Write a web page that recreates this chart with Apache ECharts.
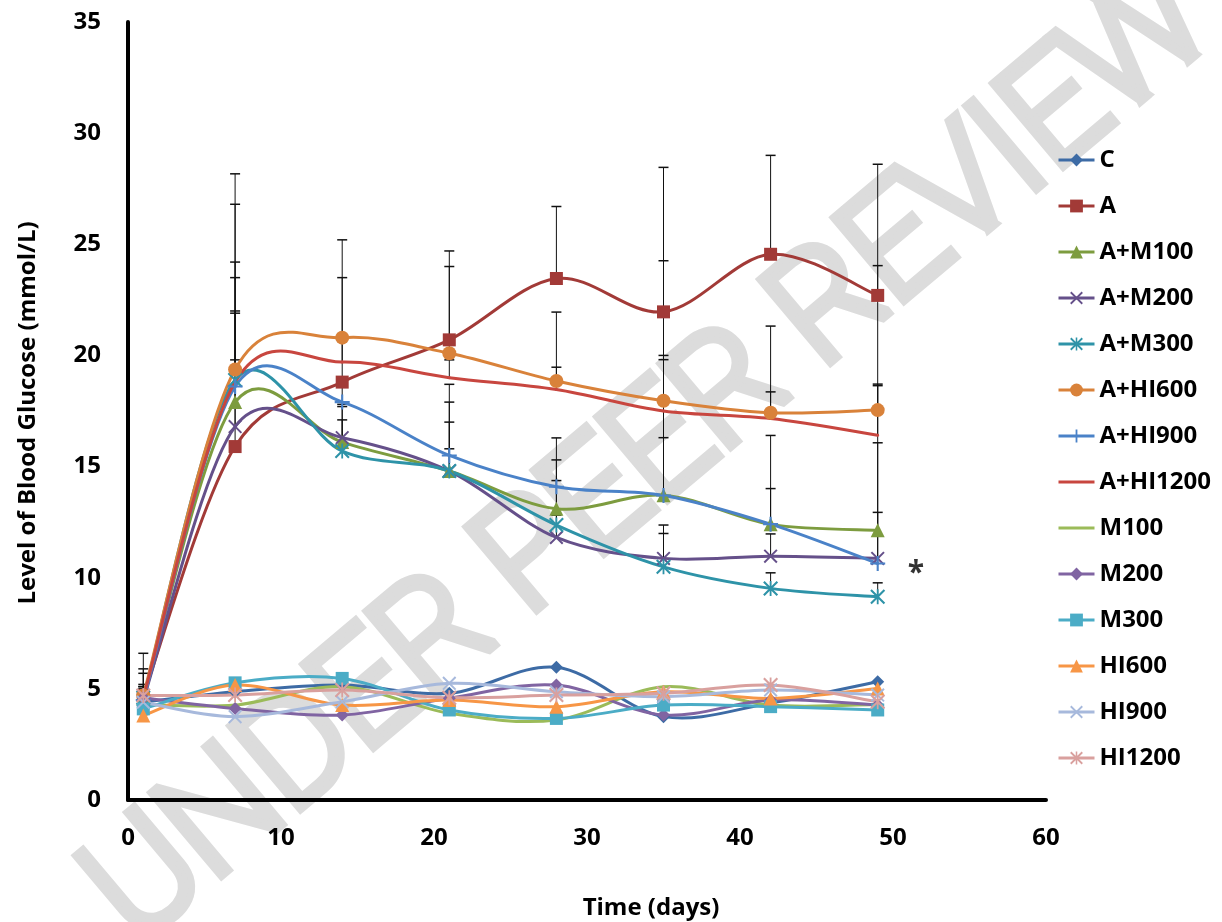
<!DOCTYPE html>
<html><head><meta charset="utf-8">
<script src="https://cdn.jsdelivr.net/npm/echarts@6/dist/echarts.min.js"></script>
<style>html,body{margin:0;padding:0;background:#fff}#c{width:1222px;height:922px}</style>
</head><body><div id="c"></div>
<script>
const days = [1, 7, 14, 21, 28, 35, 42, 49];
const xTicks = [0, 10, 20, 30, 40, 50, 60];
const yTicks = [0, 5, 10, 15, 20, 25, 30, 35];
const names = ['C','A','A+M100','A+M200','A+M300','A+HI600','A+HI900','A+HI1200','M100','M200','M300','HI600','HI900','HI1200'];

const C       = [4.4, 4.87, 5.17, 4.8, 5.97, 3.75, 4.36, 5.32];
const A       = [4.7, 15.9, 18.8, 20.7, 23.46, 21.96, 24.55, 22.7];
const AM100   = [4.6, 17.9, 16.1, 14.8, 13.1, 13.71, 12.4, 12.14];
const AM200   = [4.5, 16.8, 16.3, 14.8, 11.81, 10.87, 10.97, 10.87];
const AM300   = [4.6, 18.9, 15.7, 14.8, 12.37, 10.49, 9.52, 9.14];
const AHI600  = [4.7, 19.37, 20.8, 20.1, 18.85, 17.96, 17.42, 17.54];
const AHI900  = [4.5, 18.6, 17.9, 15.5, 14.09, 13.7, 12.41, 10.64];
const AHI1200 = [4.6, 18.8, 19.7, 19.0, 18.47, 17.5, 17.16, 16.41];
const M100    = [4.3, 4.27, 5.1, 3.9, 3.6, 5.1, 4.27, 4.3];
const M200    = [4.6, 4.12, 3.82, 4.58, 5.17, 3.82, 4.5, 4.27];
const M300    = [4.1, 5.27, 5.47, 4.05, 3.67, 4.27, 4.2, 4.05];
const HI600   = [3.8, 5.17, 4.27, 4.5, 4.2, 4.87, 4.57, 5.02];
const HI900   = [4.4, 3.75, 4.42, 5.25, 4.87, 4.65, 4.95, 4.72];
const HI1200  = [4.7, 4.72, 4.95, 4.6, 4.72, 4.8, 5.17, 4.42];

// upper error (SD) for the A-groups
const errA       = [1.9, 6.1, 4.7, 4.0, 3.24, 6.5, 4.45, 5.9];
const errAM100   = [1.3, 4.0, 1.0, 1.0, 2.2, 6.1, 4.0, 6.5];
const errAM200   = [1.2, 3.0, 1.5, 2.2, 1.0, 1.5, 1.0, 5.2];
const errAM300   = [0.5, 7.9, 2.0, 3.9, 2.0, 1.5, 0.7, 0.63];
const errAHI600  = [0.5, 8.8, 4.4, 3.9, 3.1, 6.3, 3.9, 6.5];
const errAHI900  = [0.5, 5.6, 1.0, 2.4, 2.2, 2.6, 1.6, 2.3];
const errAHI1200 = [0.5, 4.7, 1.0, 0.8, 1.0, 2.5, 1.2, 2.3];

const starNote = {x: 51.5, y: 10.2, text: '*'};

const values = [C, A, AM100, AM200, AM300, AHI600, AHI900, AHI1200, M100, M200, M300, HI600, HI900, HI1200];
const errs = [null, errA, errAM100, errAM200, errAM300, errAHI600, errAHI900, errAHI1200, null, null, null, null, null, null];
const colors = ['#3D6BA5','#A23A37','#7D9C3F','#65508A','#2E93A8','#D9823A','#4A82C8','#C8463F','#9BBB59','#8064A2','#4BACC6','#F79646','#A7B9DC','#D9A09E'];

const P_X = 'path://M0,1 L1,0 L10,9 L9,10 Z M9,0 L10,1 L1,10 L0,9 Z';
const P_STAR = 'path://M0,1 L1,0 L10,9 L9,10 Z M9,0 L10,1 L1,10 L0,9 Z M4.4,0 L5.6,0 L5.6,10 L4.4,10 Z';
const P_PLUS = 'path://M4.3,0 L5.7,0 L5.7,10 L4.3,10 Z M0,4.3 L10,4.3 L10,5.7 L0,5.7 Z';
const symbols = ['diamond','rect','triangle',P_X,P_STAR,'circle',P_PLUS,'none','none','diamond','rect','triangle',P_X,P_STAR];
const sizes = [13,13,14,14,15,14,15,0,0,13,13,14,14,15];

const errData = [];
values.forEach((v, i) => {
  if (!errs[i]) return;
  days.forEach((d, j) => { if (errs[i][j] != null) errData.push([d, v[j], v[j] + errs[i][j]]); });
});

const FONT = 'Open Sans';
const series = [];
series.push({
  name: '_err', type: 'custom', z: 2, silent: true,
  data: errData,
  renderItem: function (params, api) {
    const x = api.coord([api.value(0), api.value(1)]);
    const t = api.coord([api.value(0), api.value(2)]);
    return {type: 'group', children: [
      {type: 'line', shape: {x1: x[0], y1: x[1], x2: t[0], y2: t[1]}, style: {stroke: '#111', lineWidth: 1}},
      {type: 'line', shape: {x1: t[0] - 5, y1: t[1], x2: t[0] + 5, y2: t[1]}, style: {stroke: '#111', lineWidth: 1.5}}
    ]};
  }
});
// smoothed curves (cardinal bezier through the data points, like the spreadsheet's smoothed lines)
names.forEach((n, i) => {
  const vals = values[i];
  series.push({
    name: '_curve' + i, type: 'custom', z: 3 + i * 0.01, silent: true,
    data: days.map((d, j) => [d, vals[j]]),
    renderItem: function (params, api) {
      const k = params.dataIndex, m = days.length;
      if (k >= m - 1) return null;
      const P = q => { const c = Math.max(0, Math.min(m - 1, q)); return api.coord([days[c], vals[c]]); };
      const p0 = P(k - 1), p1 = P(k), p2 = P(k + 1), p3 = P(k + 2);
      const t = 1 / 6;
      return {type: 'bezierCurve', shape: {
        x1: p1[0], y1: p1[1], x2: p2[0], y2: p2[1],
        cpx1: p1[0] + (p2[0] - p0[0]) * t, cpy1: p1[1] + (p2[1] - p0[1]) * t,
        cpx2: p2[0] - (p3[0] - p1[0]) * t, cpy2: p2[1] - (p3[1] - p1[1]) * t
      }, style: {stroke: colors[i], lineWidth: 3, fill: 'none', lineCap: 'round'}};
    }
  });
});
// markers (and legend entries)
names.forEach((n, i) => {
  const noMark = symbols[i] === 'none';
  series.push({
    name: n, type: 'line',
    data: days.map((d, j) => [d, values[i][j]]),
    symbol: noMark ? 'circle' : symbols[i], symbolSize: sizes[i],
    showSymbol: !noMark,
    lineStyle: {width: 3, color: colors[i], opacity: 0},
    itemStyle: {color: colors[i], borderWidth: 0, opacity: noMark ? 0 : 1},
    emphasis: {disabled: true},
    z: 4 + i * 0.01
  });
});
series.push({
  name: '_note', type: 'scatter', symbolSize: 0, silent: true,
  data: [[starNote.x, starNote.y]],
  label: {show: true, formatter: starNote.text, color: '#000', fontSize: 30, fontWeight: 'bold', fontFamily: FONT, position: 'inside'}
});

const chart = echarts.init(document.getElementById('c'), null, {renderer: 'canvas'});
chart.setOption({
  animation: false,
  backgroundColor: '#fff',
  grid: {left: 128, right: 176, top: 22, bottom: 122, containLabel: false},
  xAxis: {
    type: 'value', min: xTicks[0], max: xTicks[xTicks.length - 1], interval: 10,
    axisLine: {lineStyle: {color: '#000', width: 4}}, axisTick: {show: false},
    splitLine: {show: false},
    axisLabel: {color: '#000', fontSize: 24, fontWeight: 'bold', fontFamily: FONT, margin: 26}
  },
  yAxis: {
    type: 'value', min: yTicks[0], max: yTicks[yTicks.length - 1], interval: 5,
    axisLine: {show: true, lineStyle: {color: '#000', width: 4}}, axisTick: {show: false},
    splitLine: {show: false},
    axisLabel: {color: '#000', fontSize: 24, fontWeight: 'bold', fontFamily: FONT, margin: 27}
  },
  legend: {
    orient: 'vertical', left: 1052, top: 143, itemGap: 22, itemWidth: 36, itemHeight: 16,
    data: names,
    lineStyle: {opacity: 1, width: 3},
    itemStyle: {opacity: 'inherit'},
    textStyle: {color: '#000', fontSize: 24, fontWeight: 'bold', fontFamily: FONT}
  },
  graphic: [
    {type: 'text', z: -10, silent: true,
     x: 160, y: 972, rotation: 0.70,
     style: {text: 'UNDER PEER REVIEW', fontSize: 146, fontFamily: 'Roboto', fontWeight: 100,
             fill: '#dcdcdc', stroke: '#dcdcdc', lineWidth: 13, lineJoin: 'round', lineCap: 'round',
             textAlign: 'left', textVerticalAlign: 'bottom'}},
    {type: 'text', silent: true, x: 651, y: 908,
     style: {text: 'Time (days)', fontSize: 24, fontWeight: 'bold', fontFamily: FONT, fill: '#000', textAlign: 'center', textVerticalAlign: 'middle'}},
    {type: 'text', silent: true, rotation: Math.PI / 2, x: 28, y: 413,
     style: {text: 'Level of Blood Glucose (mmol/L)', fontSize: 24, fontWeight: 'bold', fontFamily: FONT, fill: '#000', textAlign: 'center', textVerticalAlign: 'middle'}}
  ],
  series: series
});
</script>
</body></html>
